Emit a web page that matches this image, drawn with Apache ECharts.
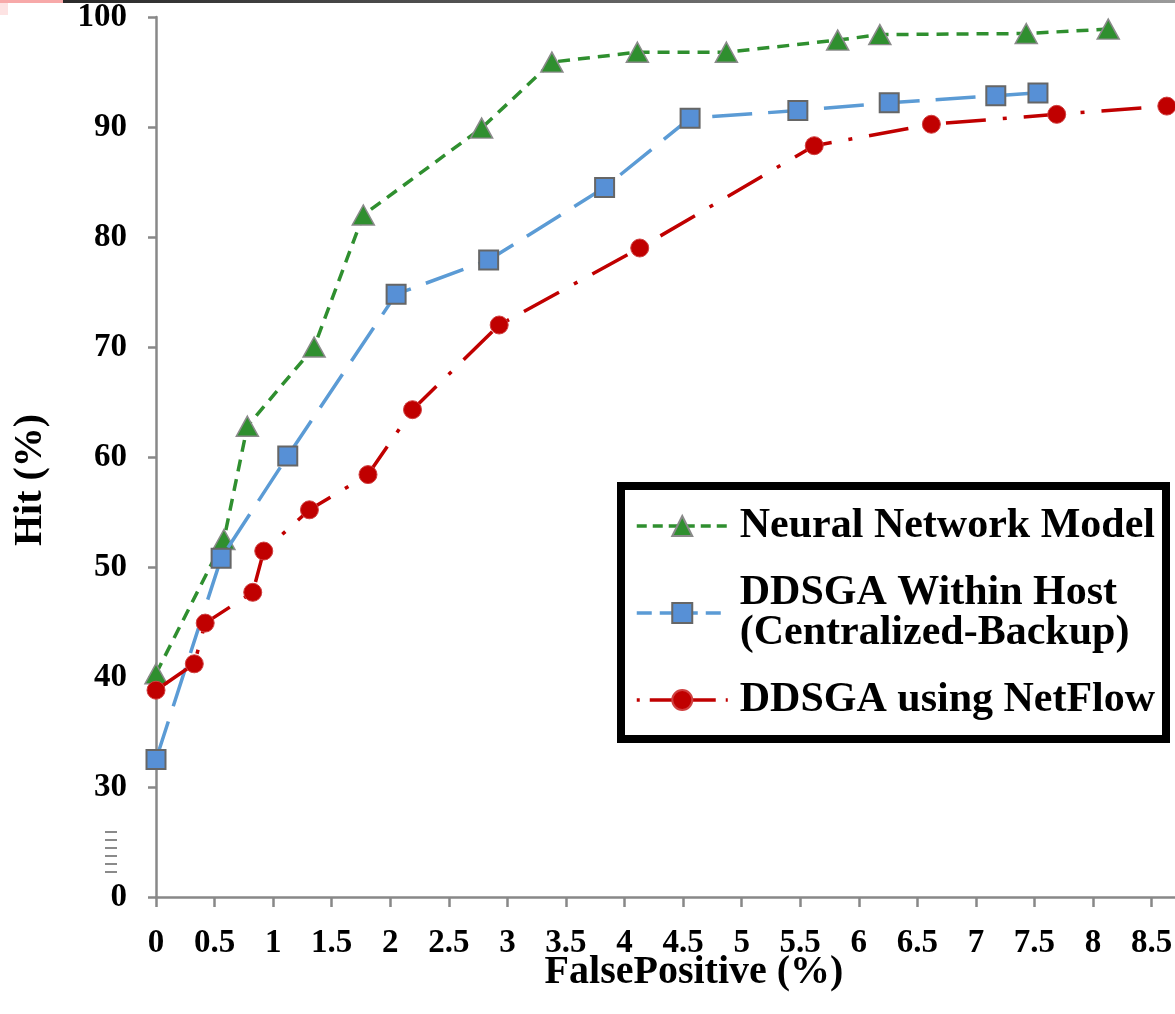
<!DOCTYPE html>
<html>
<head>
<meta charset="utf-8">
<script src="https://cdn.jsdelivr.net/npm/echarts@6/dist/echarts.min.js"></script>
<style>
html,body{margin:0;padding:0;background:#fff;}
#chart{width:1175px;height:1014px;}
</style>
</head>
<body>
<div id="chart"></div>
<script>
// ---- data ----
const seriesNames = ['Neural Network Model', 'DDSGA Within Host\n(Centralized-Backup)', 'DDSGA using NetFlow'];
const nnX = [0, 0.58, 0.78, 1.35, 1.77, 2.78, 3.38, 4.11, 4.87, 5.82, 6.18, 7.43, 8.13];
const nnY = [40.3, 52.5, 62.8, 70, 82, 89.9, 95.9, 96.8, 96.8, 97.9, 98.4, 98.5, 98.9];
const hostX = [0, 0.556, 1.125, 2.05, 2.84, 3.83, 4.56, 5.48, 6.26, 7.17, 7.53];
const hostY = [32.5, 50.8, 60.1, 74.8, 77.9, 84.5, 90.8, 91.5, 92.2, 92.85, 93.1];
const flowX = [0, 0.327, 0.42, 0.826, 0.92, 1.31, 1.81, 2.19, 2.93, 4.13, 5.62, 6.62, 7.69, 8.63];
const flowY = [38.8, 41.2, 44.9, 47.7, 51.45, 55.2, 58.4, 64.3, 72, 79, 88.3, 90.25, 91.15, 91.9];
const xTicks = [0, 0.5, 1, 1.5, 2, 2.5, 3, 3.5, 4, 4.5, 5, 5.5, 6, 6.5, 7, 7.5, 8, 8.5];
const yTicks = [20, 30, 40, 50, 60, 70, 80, 90, 100];
const yTickLabels = ['0', '30', '40', '50', '60', '70', '80', '90', '100'];

const zip = (xs, ys) => xs.map((x, i) => [x, ys[i]]);
const FONT = 'Liberation Serif';

const chart = echarts.init(document.getElementById('chart'), null, {renderer: 'canvas'});

const breakLines = [];
for (let i = 0; i < 6; i++) {
  breakLines.push({
    type: 'line',
    shape: {x1: 105, y1: 832 + i * 8, x2: 117, y2: 832 + i * 8},
    style: {stroke: '#8a8a8a', lineWidth: 2}
  });
}

const option = {
  animation: false,
  backgroundColor: '#fff',
  grid: {left: 156, top: 17, right: 0, bottom: 117, containLabel: false, outerBoundsMode: 'none'},
  xAxis: {
    type: 'value', min: 0, max: 8.7,
    splitLine: {show: false},
    axisLine: {show: true, onZero: false, lineStyle: {color: '#888', width: 2.5}},
    axisTick: {show: true, length: 10, lineStyle: {color: '#888', width: 2.5}, customValues: xTicks},
    axisLabel: {
      customValues: xTicks, margin: 30,
      fontFamily: FONT, fontWeight: 'bold', fontSize: 33, color: '#000'
    }
  },
  yAxis: {
    type: 'value', min: 20, max: 100, interval: 10,
    splitLine: {show: false},
    axisLine: {show: true, onZero: false, lineStyle: {color: '#888', width: 2.5}},
    axisTick: {show: true, length: 8, lineStyle: {color: '#888', width: 2.5}},
    axisLabel: {
      margin: 29,
      fontFamily: FONT, fontWeight: 'bold', fontSize: 33, color: '#000',
      formatter: v => { const i = yTicks.indexOf(v); return i >= 0 ? yTickLabels[i] : ''; }
    }
  },
  legend: {
    orient: 'vertical', left: 635, top: 505,
    itemWidth: 91, itemHeight: 25, itemGap: 25,
    padding: 0,
    textStyle: {fontFamily: FONT, fontWeight: 'bold', fontSize: 42, color: '#000', lineHeight: 40, padding: [0, 0, 0, 7]},
    data: [
      {name: seriesNames[0], lineStyle: {type: [10, 6], width: 3.5}},
      {name: seriesNames[1], lineStyle: {type: [15, 8], width: 3.5}},
      {name: seriesNames[2], lineStyle: {type: [3, 10, 66, 10, 3, 100], width: 3.5}}
    ]
  },
  series: [
    {
      name: seriesNames[0], type: 'line', data: zip(nnX, nnY),
      symbol: 'triangle', symbolSize: [22, 20],
      lineStyle: {color: '#2f8f2f', width: 3.5, type: [12, 8]},
      itemStyle: {color: '#2f8f2f', borderColor: '#8a8a8a', borderWidth: 1.5},
      z: 2
    },
    {
      name: seriesNames[1], type: 'line', data: zip(hostX, hostY),
      symbol: 'rect', symbolSize: 19,
      lineStyle: {color: '#5b9bd5', width: 3.5, type: [40, 16]},
      itemStyle: {color: '#5790d6', borderColor: '#666', borderWidth: 2},
      z: 3
    },
    {
      name: seriesNames[2], type: 'line', data: zip(flowX, flowY),
      symbol: 'circle', symbolSize: 18,
      lineStyle: {color: '#c00000', width: 3.5, type: [40, 17, 4, 17]},
      itemStyle: {color: '#c00000', borderColor: '#d04040', borderWidth: 1},
      z: 4
    }
  ],
  graphic: [
    {type: 'rect', shape: {x: 63, y: 0, width: 1112, height: 3},
     style: {fill: new echarts.graphic.LinearGradient(0, 0, 1, 0, [{offset: 0, color: '#2a2a2a'}, {offset: 1, color: '#9a9a9a'}])}, silent: true},
    {type: 'rect', shape: {x: 0, y: 0, width: 63, height: 3}, style: {fill: '#f7a9a9'}, silent: true},
    {type: 'rect', shape: {x: 0, y: 3, width: 8, height: 12}, style: {fill: '#fde3e3'}, silent: true},
    {type: 'rect', shape: {x: 621, y: 486, width: 545, height: 253},
     style: {fill: 'rgba(0,0,0,0)', stroke: '#000', lineWidth: 8}, z: 1},
    {type: 'text', x: 694, y: 973,
     style: {text: 'FalsePositive (%)', fontFamily: FONT, fontWeight: 'bold', fontSize: 40, fill: '#000', align: 'center', verticalAlign: 'middle'}},
    {type: 'text', x: 31, y: 480, rotation: Math.PI / 2,
     style: {text: 'Hit (%)', fontFamily: FONT, fontWeight: 'bold', fontSize: 40, fill: '#000', align: 'center', verticalAlign: 'middle'}},
    {type: 'group', children: breakLines}
  ]
};
chart.setOption(option);
</script>
</body>
</html>
